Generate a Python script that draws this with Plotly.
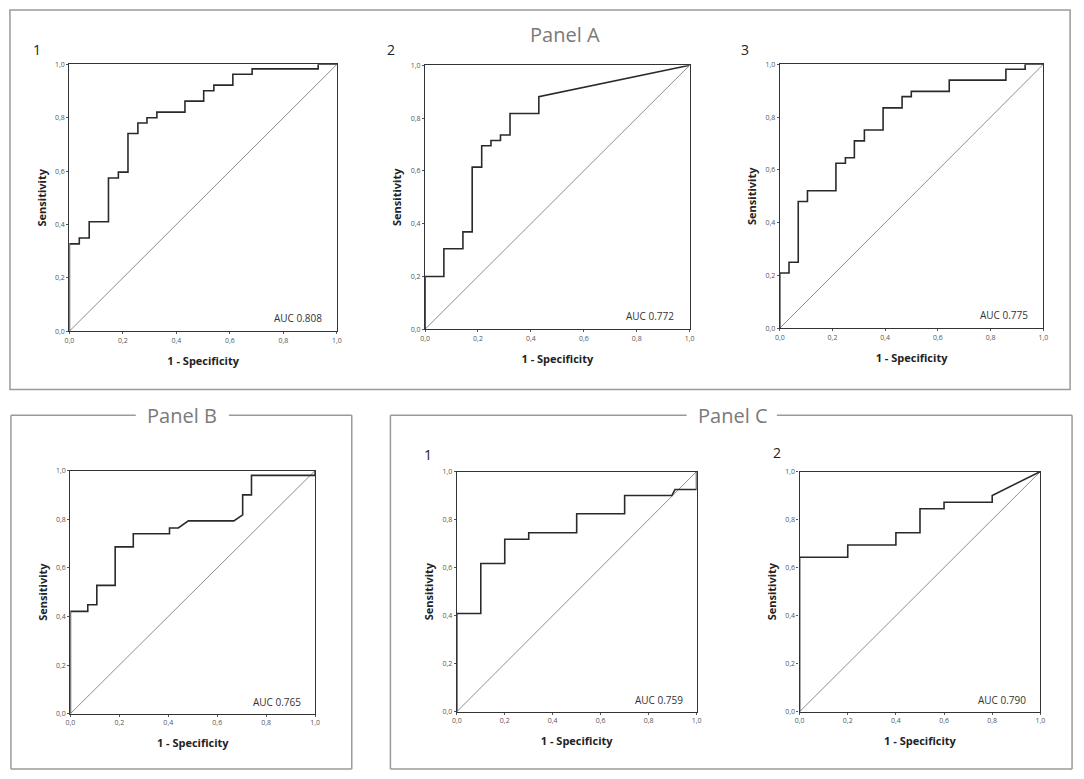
import plotly.graph_objects as go

W, H = 1084, 779

# ROC curves (1 - specificity, sensitivity)
a1_fpr = [0, 0, 0.037, 0.037, 0.074, 0.074, 0.146, 0.146, 0.183, 0.183, 0.219, 0.219, 0.256, 0.256,
          0.29, 0.29, 0.327, 0.327, 0.432, 0.432, 0.502, 0.502, 0.54, 0.54, 0.611, 0.611, 0.683, 0.683,
          0.93, 0.93, 1.0]
a1_tpr = [0, 0.327, 0.327, 0.349, 0.349, 0.41, 0.41, 0.574, 0.574, 0.596, 0.596, 0.741, 0.741, 0.78,
          0.78, 0.80, 0.80, 0.821, 0.821, 0.862, 0.862, 0.901, 0.901, 0.922, 0.922, 0.963, 0.963, 0.983,
          0.983, 1.0, 1.0]

a2_fpr = [0, 0, 0.071, 0.071, 0.143, 0.143, 0.178, 0.178, 0.214, 0.214, 0.249, 0.249, 0.285, 0.285,
          0.321, 0.321, 0.43, 0.43, 1.0]
a2_tpr = [0, 0.2, 0.2, 0.305, 0.305, 0.369, 0.369, 0.614, 0.614, 0.695, 0.695, 0.715, 0.715, 0.736,
          0.736, 0.8175, 0.8175, 0.881, 1.0]

a3_fpr = [0, 0, 0.035, 0.035, 0.07, 0.07, 0.105, 0.105, 0.213, 0.213, 0.249, 0.249, 0.283, 0.283,
          0.321, 0.321, 0.392, 0.392, 0.464, 0.464, 0.499, 0.499, 0.643, 0.643, 0.858, 0.858, 0.931,
          0.931, 1.0]
a3_tpr = [0, 0.209, 0.209, 0.25, 0.25, 0.48, 0.48, 0.521, 0.521, 0.625, 0.625, 0.646, 0.646, 0.71,
          0.71, 0.751, 0.751, 0.835, 0.835, 0.8775, 0.8775, 0.8975, 0.8975, 0.94, 0.94, 0.981, 0.981,
          1.0, 1.0]

b_fpr = [0, 0, 0.071, 0.071, 0.108, 0.108, 0.183, 0.183, 0.257, 0.257, 0.405, 0.405, 0.441, 0.482,
         0.668, 0.704, 0.704, 0.74, 0.74, 1.0, 1.0]
b_tpr = [0, 0.421, 0.421, 0.448, 0.448, 0.528, 0.528, 0.686, 0.686, 0.74, 0.74, 0.764, 0.764, 0.793,
         0.793, 0.818, 0.9, 0.9, 0.98, 0.98, 1.0]

c1_fpr = [0, 0, 0.1, 0.1, 0.2, 0.2, 0.3, 0.3, 0.5, 0.5, 0.7, 0.7, 0.897, 0.91, 1.0, 1.0]
c1_tpr = [0, 0.409, 0.409, 0.617, 0.617, 0.718, 0.718, 0.745, 0.745, 0.824, 0.824, 0.9, 0.9, 0.925,
          0.925, 1.0]

c2_fpr = [0, 0, 0.2, 0.2, 0.4, 0.4, 0.5, 0.5, 0.6, 0.6, 0.8, 0.8, 1.0]
c2_tpr = [0, 0.643, 0.643, 0.694, 0.694, 0.745, 0.745, 0.845, 0.845, 0.872, 0.872, 0.9, 1.0]

auc_labels = ["AUC 0.808", "AUC 0.772", "AUC 0.775", "AUC 0.765", "AUC 0.759", "AUC 0.790"]
plot_numbers = ["1", "2", "3", "", "1", "2"]
tick_vals = [0, 0.2, 0.4, 0.6, 0.8, 1.0]
tick_text = ["0,0", "0,2", "0,4", "0,6", "0,8", "1,0"]

curves = [(a1_fpr, a1_tpr), (a2_fpr, a2_tpr), (a3_fpr, a3_tpr),
          (b_fpr, b_tpr), (c1_fpr, c1_tpr), (c2_fpr, c2_tpr)]

# plot boxes in pixels: left, top, right, bottom
boxes = [(65, 60, 335, 330), (424, 61, 691, 328), (782, 60, 1048, 327),
         (66, 471, 313, 717), (456, 472, 698, 715), (802, 472, 1045, 715)]
# where the small "1", "2", "3" sit
number_pos = [(32, 45), (390, 45), (747, 45), (0, 0), (427, 455), (779, 453)]


def px(x):
    return x / W


def py(y):
    return 1 - y / H


fig = go.Figure()
layout = {}
annotations = []
shapes = []

for i, ((fpr, tpr), box) in enumerate(zip(curves, boxes)):
    n = "" if i == 0 else str(i + 1)
    xa, ya = "x" + n, "y" + n
    # reference diagonal
    fig.add_trace(go.Scatter(x=[0, 1], y=[0, 1], mode="lines", xaxis=xa, yaxis=ya,
                             line=dict(color="#707070", width=0.8), hoverinfo="skip"))
    fig.add_trace(go.Scatter(x=fpr, y=tpr, mode="lines", xaxis=xa, yaxis=ya,
                             line=dict(color="#2a2a2a", width=1.6)))
    l, t, r, b = box
    common = dict(range=[0, 1], tickvals=tick_vals, ticktext=tick_text,
                  tickfont=dict(size=7, color="#555"), showgrid=False, zeroline=False,
                  showline=True, linecolor="#333", linewidth=1.3, mirror=True,
                  ticks="outside", ticklen=2, tickcolor="#555", fixedrange=True)
    layout["xaxis" + n] = dict(common, domain=[px(l), px(r)], anchor=ya,
                               title=dict(text="<b>1 - Specificity</b>", standoff=13,
                                          font=dict(size=11, color="#222")))
    layout["yaxis" + n] = dict(common, domain=[py(b), py(t)], anchor=xa,
                               title=dict(text="<b>Sensitivity</b>", standoff=6,
                                          font=dict(size=11, color="#222")))
    annotations.append(dict(x=0.95, y=0.05, xref=xa, yref=ya, text=auc_labels[i],
                            showarrow=False, xanchor="right", yanchor="middle",
                            font=dict(size=10, color="#333")))
    if plot_numbers[i]:
        nx, ny = number_pos[i]
        annotations.append(dict(x=px(nx), y=py(ny), xref="paper", yref="paper",
                                text=plot_numbers[i], showarrow=False,
                                xanchor="center", yanchor="middle",
                                font=dict(size=14, color="#222")))

# panel frames
frame = dict(type="line", xref="paper", yref="paper", line=dict(color="#9a9a9a", width=1.5))
shapes.append(dict(type="rect", xref="paper", yref="paper", x0=px(5), x1=px(1075),
                   y0=py(389), y1=py(5), line=dict(color="#9a9a9a", width=1.5)))
for x0, y0, x1, y1 in [(6, 415, 132, 415), (226, 415, 350, 415), (6, 415, 6, 773),
                       (350, 415, 350, 773), (6, 773, 350, 773),
                       (389, 415, 688, 415), (779, 415, 1077, 415), (389, 415, 389, 773),
                       (1077, 415, 1077, 773), (389, 773, 1077, 773)]:
    shapes.append(dict(frame, x0=px(x0), x1=px(x1), y0=py(y0), y1=py(y1)))

for label, (cx, cy) in [("Panel A", (565, 30)), ("Panel B", (179, 415)), ("Panel C", (734, 415))]:
    annotations.append(dict(x=px(cx), y=py(cy), xref="paper", yref="paper", text=label,
                            showarrow=False, xanchor="center", yanchor="middle",
                            font=dict(size=20, color="#7a7a7a", family="Open Sans")))

fig.update_layout(
    width=W, height=H,
    margin=dict(l=0, r=0, t=0, b=0),
    paper_bgcolor="white", plot_bgcolor="white",
    showlegend=False,
    font=dict(family="Open Sans", color="#222"),
    annotations=annotations, shapes=shapes,
    **layout,
)

fig.write_html("out.html", config={"displayModeBar": False},
               post_script="document.body.style.margin='0px';document.body.style.overflow='hidden';")
